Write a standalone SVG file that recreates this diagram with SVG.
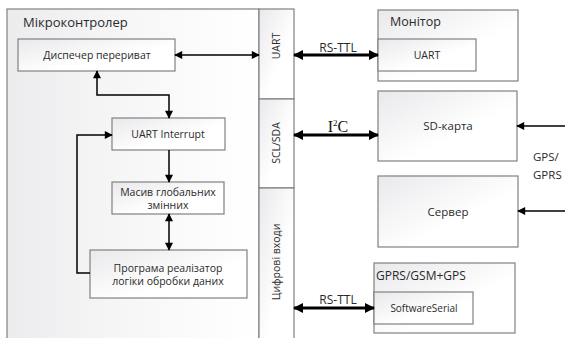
<svg xmlns="http://www.w3.org/2000/svg" width="565" height="338" viewBox="0 0 565 338">
<defs>
<linearGradient id="g" x1="0" y1="0" x2="1" y2="1">
<stop offset="0" stop-color="#e9e9ec"/>
<stop offset="0.6" stop-color="#ffffff"/>
</linearGradient>
<linearGradient id="gOuter" x1="0" y1="0" x2="1" y2="0">
<stop offset="0" stop-color="#ececee"/>
<stop offset="0.5" stop-color="#f7f7f8"/>
<stop offset="1" stop-color="#ffffff"/>
</linearGradient>
<marker id="a" viewBox="0 0 10 10" refX="9" refY="5" markerWidth="9" markerHeight="8" markerUnits="userSpaceOnUse" orient="auto-start-reverse">
<path d="M0,0 L10,5 L0,10 Z" fill="#000"/>
</marker>
<marker id="b" viewBox="0 0 10 10" refX="9" refY="5" markerWidth="12" markerHeight="10" markerUnits="userSpaceOnUse" orient="auto-start-reverse">
<path d="M0,0 L10,5 L0,10 Z" fill="#000"/>
</marker>
</defs>
<style>
.box{fill:url(#g);stroke:#808080;stroke-width:1.2}
.t{font-family:"Open Sans","Noto Sans","DejaVu Sans",sans-serif;fill:#2a2a2a;text-anchor:middle}
.s{font-size:10.5px}
.thin{fill:none;stroke:#000;stroke-width:1.5;marker-start:url(#a);marker-end:url(#a)}
.one{fill:none;stroke:#000;stroke-width:1.5;marker-end:url(#a)}
.thick{fill:none;stroke:#000;stroke-width:3;marker-start:url(#b);marker-end:url(#b)}
</style>
<rect width="565" height="338" fill="#fff"/>

<g id="mcu">
<rect x="7" y="9" width="252" height="335" fill="url(#gOuter)" stroke="#808080" stroke-width="1.2"/>
<text class="t" x="23" y="27" font-size="13" style="text-anchor:start">Мікроконтролер</text>
</g>

<g id="column">
<rect x="259" y="9" width="35" height="90" class="box"/>
<rect x="259" y="99" width="35" height="89" class="box"/>
<rect x="259" y="188" width="35" height="156" class="box"/>
<text class="t s" transform="translate(280,46) rotate(-90)">UART</text>
<text class="t s" transform="translate(280,143) rotate(-90)">SCL/SDA</text>
<text class="t s" transform="translate(280,262) rotate(-90)">Цифрові входи</text>
</g>

<g id="dispatcher">
<rect x="18" y="39" width="157" height="32" class="box"/>
<text class="t s" x="97" y="59">Диспечер перериват</text>
</g>

<g id="uart-interrupt">
<rect x="112" y="118" width="113" height="32" class="box"/>
<text class="t s" x="168" y="138">UART Interrupt</text>
</g>

<g id="global-array">
<rect x="112" y="182" width="112" height="32" class="box"/>
<text class="t s" x="168" y="196">Масив глобальних</text>
<text class="t s" x="168" y="209">змінних</text>
</g>

<g id="program">
<rect x="90" y="250" width="157" height="48" class="box"/>
<text class="t s" x="168" y="272">Програма реалізатор</text>
<text class="t s" x="168" y="285">логіки обробки даних</text>
</g>

<g id="monitor">
<rect x="378" y="10" width="140" height="71" class="box"/>
<text class="t" x="390" y="26" font-size="12.5" style="text-anchor:start">Монітор</text>
<rect x="378" y="39" width="98" height="32" class="box"/>
<text class="t s" x="427" y="59">UART</text>
</g>

<g id="sd-card">
<rect x="378" y="91" width="139" height="70" class="box"/>
<text class="t" x="448" y="130" font-size="11.5">SD-карта</text>
</g>

<g id="server">
<rect x="378" y="176" width="140" height="71" class="box"/>
<text class="t" x="448" y="216" font-size="11.5">Сервер</text>
</g>

<g id="gprs">
<rect x="374" y="263" width="141" height="70" class="box"/>
<text class="t" x="376" y="280" font-size="12" style="text-anchor:start">GPRS/GSM+GPS</text>
<rect x="374" y="292" width="99" height="32" class="box"/>
<text class="t" x="424" y="312" font-size="10">SoftwareSerial</text>
</g>

<g id="connectors">
<path class="thin" d="M175,55 H259"/>
<path class="thin" d="M97,71 V95 H169 V118"/>
<path class="one" d="M169,150 V182"/>
<path class="thin" d="M169,214 V250"/>
<path class="one" d="M90,273 H77 V135 H112"/>
<path class="thick" d="M294,55 H378"/>
<path class="thick" d="M294,135 H378"/>
<path class="thick" d="M294,308 H374"/>
<path class="one" d="M565,126 H517"/>
<path class="one" d="M565,211 H518"/>
<text class="t" x="338" y="52" font-size="12">RS-TTL</text>
<text class="t" x="338" y="304" font-size="12">RS-TTL</text>
<text x="338" y="132" font-family="'Liberation Serif',serif" font-size="16" text-anchor="middle" fill="#111">I<tspan font-size="9" dy="-6">2</tspan><tspan dy="6">C</tspan></text>
<text class="t" x="533" y="161" font-size="11.5" style="text-anchor:start">GPS/</text>
<text class="t" x="533" y="179" font-size="11.5" style="text-anchor:start">GPRS</text>
</g>
</svg>
